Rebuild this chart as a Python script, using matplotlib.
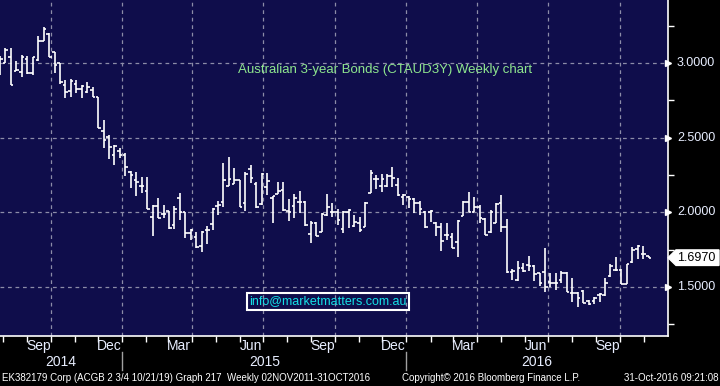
import matplotlib
matplotlib.use("Agg")
import matplotlib.pyplot as plt
import matplotlib.transforms as mtransforms
import matplotlib.dates as mdates
import pandas as pd
from matplotlib.patches import Polygon

plt.rcParams['font.family'] = ['Liberation Sans', 'DejaVu Sans']

# barres hebdomadaires (OHLC)
dates = pd.date_range("2014-07-28", periods=120, freq="7D")
opens = [3.00, 3.00, 3.04, 2.946, 2.94, 3.03, 2.933, 3.02, 3.147, 3.194,
         3.074, 3.00, 2.853, 2.813, 2.86, 2.826, 2.806, 2.82, 2.773, 2.545,
         2.505, 2.384, 2.411, 2.384, 2.27, 2.217, 2.177, 2.143, 1.97, 2.043,
         1.99, 2.01, 1.916, 2.097, 2.003, 1.862, 1.835, 1.775, 1.882, 1.922,
         2.043, 2.07, 2.177, 2.19, 2.217, 2.063, 2.29, 2.19, 2.056, 2.17,
         2.097, 2.123, 2.15, 2.01, 2.043, 2.07, 2.07, 1.855, 1.929, 1.869,
         1.983, 2.003, 2.0, 1.889, 2.003, 1.909, 1.929, 1.902, 2.13, 2.224,
         2.177, 2.177, 2.244, 2.183, 2.103, 2.103, 2.09, 2.063, 2.003, 2.003,
         1.929, 1.902, 1.849, 1.835, 1.802, 1.976, 2.07, 2.003, 2.036, 1.956,
         1.869, 1.929, 2.063, 1.902, 1.601, 1.547, 1.628, 1.648, 1.641, 1.594,
         1.601, 1.534, 1.527, 1.547, 1.594, 1.46, 1.46, 1.474, 1.407, 1.407,
         1.447, 1.447, 1.574, 1.614, 1.614, 1.52, 1.668, 1.755, 1.721, 1.708]
highs = [3.05, 3.10, 3.10, 3.013, 3.054, 3.047, 3.04, 3.18, 3.24, 3.20,
         3.074, 3.00, 2.886, 2.893, 2.886, 2.853, 2.873, 2.84, 2.773, 2.618,
         2.518, 2.451, 2.431, 2.398, 2.277, 2.27, 2.237, 2.237, 2.05, 2.097,
         2.05, 2.01, 2.043, 2.13, 2.003, 1.889, 1.869, 1.875, 1.909, 2.03,
         2.077, 2.33, 2.37, 2.297, 2.217, 2.27, 2.317, 2.204, 2.264, 2.264,
         2.11, 2.203, 2.203, 2.09, 2.123, 2.143, 2.077, 1.943, 1.936, 1.996,
         2.123, 2.063, 2.023, 2.01, 2.023, 1.983, 1.97, 2.07, 2.284, 2.25,
         2.257, 2.257, 2.304, 2.23, 2.123, 2.11, 2.097, 2.077, 2.01, 2.016,
         1.936, 1.929, 1.929, 1.862, 1.95, 2.077, 2.137, 2.103, 2.05, 1.963,
         2.016, 2.063, 2.116, 1.956, 1.62, 1.675, 1.661, 1.708, 1.648, 1.594,
         1.762, 1.594, 1.594, 1.608, 1.601, 1.561, 1.467, 1.48, 1.414, 1.434,
         1.46, 1.561, 1.655, 1.701, 1.621, 1.655, 1.768, 1.782, 1.775, 1.711]
lows = [2.92, 3.00, 2.853, 2.946, 2.906, 2.927, 2.92, 3.013, 3.147, 3.04,
        2.933, 2.86, 2.766, 2.773, 2.80, 2.766, 2.80, 2.773, 2.565, 2.431,
        2.357, 2.317, 2.364, 2.244, 2.163, 2.11, 2.13, 2.023, 1.842, 1.963,
        1.963, 1.889, 1.889, 1.95, 1.829, 1.815, 1.762, 1.735, 1.788, 1.882,
        1.983, 2.036, 2.177, 2.19, 2.036, 2.01, 2.197, 2.03, 2.05, 2.116,
        1.929, 2.123, 2.01, 1.943, 1.963, 1.996, 1.909, 1.795, 1.842, 1.869,
        1.976, 1.97, 1.916, 1.862, 1.896, 1.902, 1.869, 1.902, 2.13, 2.157,
        2.137, 2.17, 2.17, 2.11, 2.05, 2.03, 1.996, 1.983, 1.896, 1.936,
        1.842, 1.742, 1.815, 1.762, 1.70, 1.976, 2.0, 2.0, 1.929, 1.849,
        1.862, 1.929, 1.869, 1.594, 1.547, 1.54, 1.601, 1.608, 1.54, 1.507,
        1.467, 1.50, 1.48, 1.527, 1.467, 1.40, 1.367, 1.393, 1.38, 1.387,
        1.40, 1.44, 1.567, 1.608, 1.52, 1.52, 1.661, 1.688, 1.688, 1.695]
closes = [3.03, 3.087, 2.853, 2.953, 3.04, 2.933, 3.04, 3.147, 3.227, 3.04,
          2.987, 2.873, 2.806, 2.88, 2.826, 2.846, 2.84, 2.773, 2.565, 2.485,
          2.438, 2.444, 2.384, 2.304, 2.25, 2.203, 2.177, 2.023, 2.043, 1.963,
          1.99, 1.896, 2.023, 2.00, 1.862, 1.882, 1.768, 1.869, 1.882, 2.023,
          2.05, 2.217, 2.224, 2.217, 2.036, 2.257, 2.23, 2.036, 2.257, 2.21,
          2.11, 2.143, 2.016, 2.003, 2.097, 2.07, 1.916, 1.929, 1.842, 1.99,
          2.036, 2.003, 1.95, 2.003, 2.016, 1.936, 1.882, 2.063, 2.264, 2.224,
          2.224, 2.244, 2.23, 2.116, 2.116, 2.09, 2.063, 2.023, 1.902, 2.01,
          1.902, 1.809, 1.849, 1.762, 1.943, 2.07, 2.003, 2.036, 1.963, 1.849,
          2.003, 2.056, 1.902, 1.601, 1.608, 1.628, 1.608, 1.641, 1.588, 1.527,
          1.50, 1.527, 1.527, 1.594, 1.467, 1.46, 1.427, 1.393, 1.387, 1.427,
          1.454, 1.527, 1.641, 1.614, 1.52, 1.655, 1.748, 1.775, 1.721, 1.697]

month_labels = ["Sep", "Dec", "Mar", "Jun", "Sep", "Dec", "Mar", "Jun", "Sep"]
month_label_dates = ["2014-09-15", "2014-12-15", "2015-03-15", "2015-06-15", "2015-09-15",
                     "2015-12-15", "2016-03-15", "2016-06-15", "2016-09-15"]
year_labels = ["2014", "2015", "2016"]
year_starts = ["2015-01-01", "2016-01-01"]
y_major = [1.5, 2.0, 2.5, 3.0]
y_minor = [1.25, 1.75, 2.25, 2.75, 3.25]

title = "Australian 3-year Bonds (CTAUD3Y) Weekly chart"
email = "info@marketmatters.com.au"
footer_left = "EK382179 Corp (ACGB 2 3/4 10/21/19) Graph 217  Weekly 02NOV2011-31OCT2016"
footer_mid = "Copyright\u00a9 2016 Bloomberg Finance L.P."
footer_right = "31-Oct-2016 09:21:08"

bg = '#0f0d4b'
fg = '#e8eeff'
grid_col = '#8c8ca8'

fig = plt.figure(figsize=(7.2, 3.86), dpi=100, facecolor='black')
ax = fig.add_axes([0, 50 / 386, 668 / 720, 336 / 386], facecolor=bg)

x = mdates.date2num(dates)
x0 = mdates.date2num(pd.Timestamp("2014-07-28"))
x1 = x0 + 668 / 0.7786
ax.set_xlim(x0, x1)
ax.set_ylim(1.1727, 3.4217)

# grille
for d in pd.date_range("2014-10-01", "2016-10-01", freq="QS"):
    ax.axvline(mdates.date2num(d), color=grid_col, lw=0.9, ls=(0, (3, 3)), zorder=1)
for v in y_major:
    ax.axhline(v, color=grid_col, lw=0.9, ls=(0, (3, 3)), zorder=1)

# barres OHLC
tick = 3.3
ax.vlines(x, lows, highs, color='white', lw=1.2, zorder=3)
ax.hlines(opens, x - tick, x, color='white', lw=1.2, zorder=3)
ax.hlines(closes, x, x + tick, color='white', lw=1.2, zorder=3)

# axes
for s in ['top', 'left']:
    ax.spines[s].set_visible(False)
for s in ['bottom', 'right']:
    ax.spines[s].set_color('white')
    ax.spines[s].set_linewidth(1.2)

months = mdates.date2num(pd.date_range("2014-08-01", "2016-11-01", freq="MS"))
ax.set_xticks(months)
ax.set_xticklabels([])
ax.tick_params(axis='x', direction='out', length=4, width=1, color='white')

ax.yaxis.tick_right()
ax.set_yticks(y_minor)
ax.set_yticklabels([])
ax.tick_params(axis='y', direction='out', length=4, width=1, color='white')

ytr = mtransforms.blended_transform_factory(ax.transAxes, ax.transData)
for v in y_major:
    ax.plot([1.0], [v], marker='>', ms=5, color='white', transform=ytr, clip_on=False, zorder=5)
    ax.text(1.0 + 9 / 668, v, f"{v:.4f}", transform=ytr, color=fg, fontsize=9,
            va='center', ha='left', clip_on=False)

# étiquette du dernier cours
last = closes[-1]
ftr = mtransforms.blended_transform_factory(fig.transFigure, ax.transData)
h = 0.052
tag = Polygon([(668 / 720, last), (676 / 720, last + h), (719 / 720, last + h),
               (719 / 720, last - h), (676 / 720, last - h)],
              closed=True, transform=ftr, facecolor='white', edgecolor='white', clip_on=False)
fig.patches.append(tag)
fig.text(677 / 720, last, f"{last:.4f}", transform=ftr, color='black', fontsize=9,
         va='center', ha='left')

# libellés de l'axe des x
xtr = mtransforms.blended_transform_factory(ax.transData, fig.transFigure)
for lab, d in zip(month_labels, month_label_dates):
    fig.text(mdates.date2num(pd.Timestamp(d)), (386 - 346) / 386, lab, transform=xtr,
             color=fg, fontsize=10, ha='center', va='center')
bounds = [x0] + [mdates.date2num(pd.Timestamp(d)) for d in year_starts] + [x1]
for i, lab in enumerate(year_labels):
    fig.text((bounds[i] + bounds[i + 1]) / 2, (386 - 362) / 386, lab, transform=xtr,
             color=fg, fontsize=10, ha='center', va='center')
for d in year_starts:
    xd = mdates.date2num(pd.Timestamp(d))
    fig.add_artist(plt.Line2D([xd, xd], [(386 - 370) / 386, (386 - 352) / 386],
                              transform=xtr, color='#a0a0a0', lw=1))

# textes
ax.text(385.5 / 668, 1 - 70 / 336, title, transform=ax.transAxes, color='#8ee68e',
        fontsize=9.5, ha='center', va='center')
ax.text(328 / 668, 1 - 301.5 / 336, email, transform=ax.transAxes, color='#14e0e6',
        fontsize=9, ha='center', va='center',
        bbox=dict(boxstyle='square,pad=0.22', facecolor='none', edgecolor='white', lw=1.5))

fig.text(2 / 720, 8 / 386, footer_left, color='white', fontsize=7, ha='left', va='center')
fig.text(402 / 720, 8 / 386, footer_mid, color='white', fontsize=7, ha='left', va='center')
fig.text(718 / 720, 8 / 386, footer_right, color='white', fontsize=7, ha='right', va='center')

fig.savefig("out.png", dpi=100, facecolor='black')
